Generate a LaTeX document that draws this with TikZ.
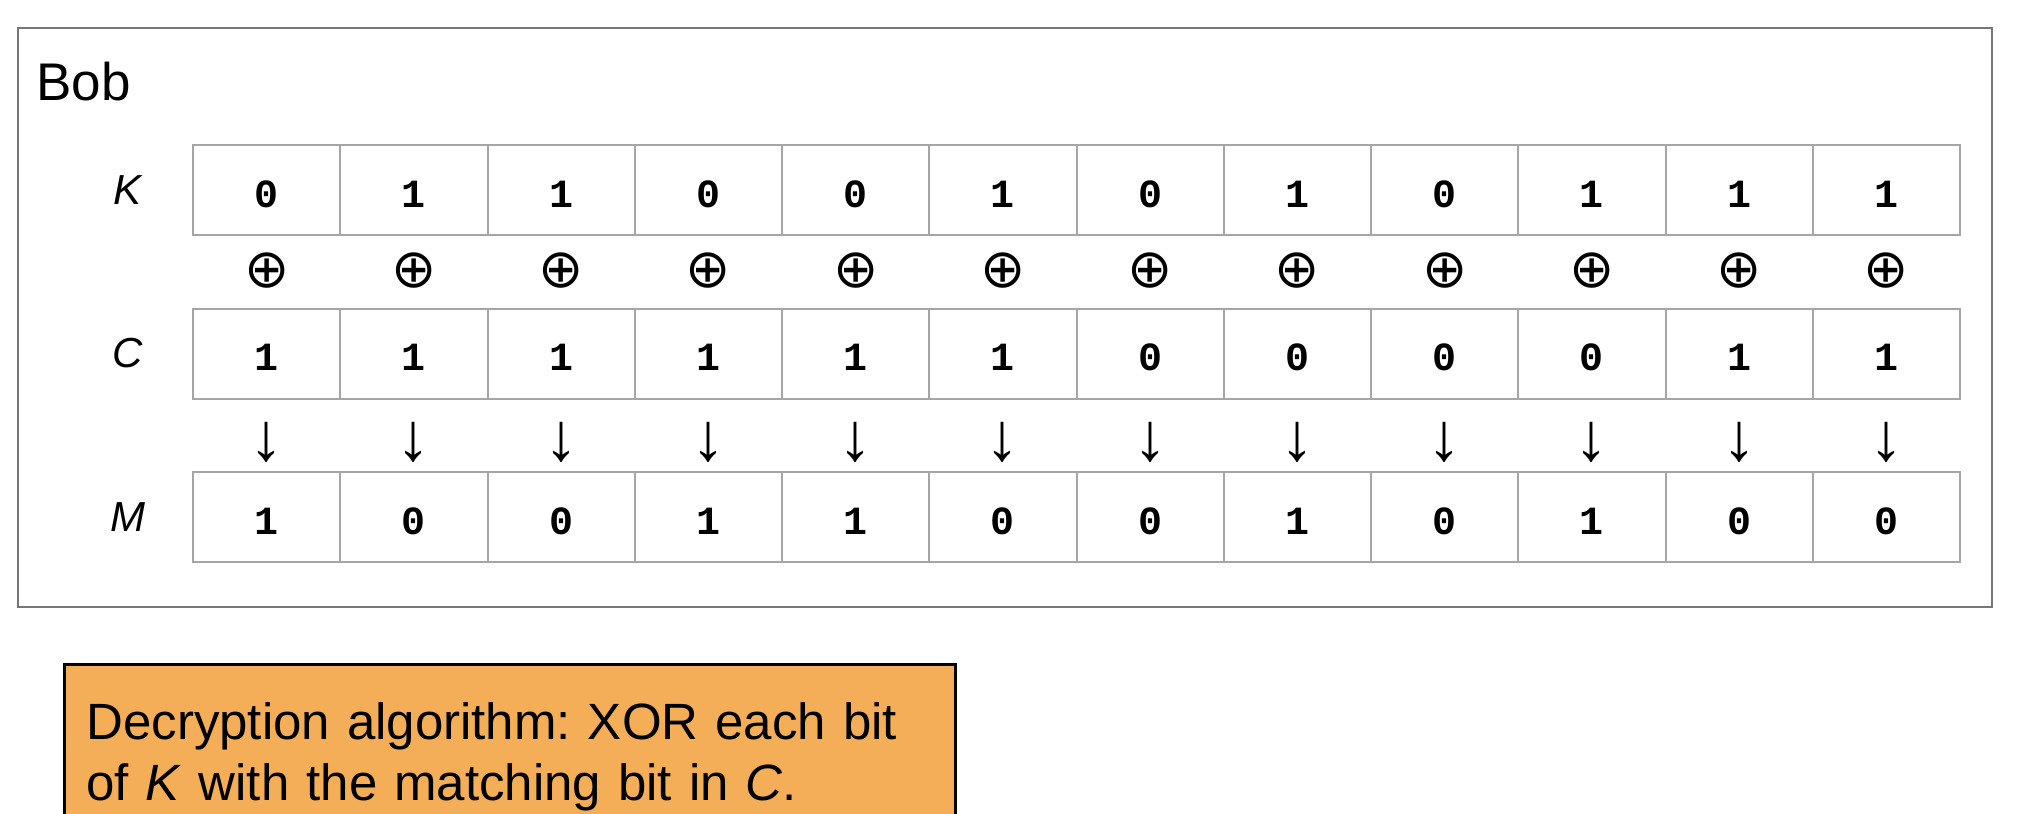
\documentclass[tikz,border=0pt]{standalone}
\usepackage{fontspec}
\setmainfont{Liberation Sans}
\setmonofont{Liberation Mono}
\newfontfamily\symfont{DejaVu Sans}
\frenchspacing
\definecolor{framegray}{HTML}{777777}
\definecolor{cellgray}{HTML}{A6A6A6}
\definecolor{notefill}{HTML}{F3AE57}
\begin{document}
\begin{tikzpicture}[x=0.5pt,y=-0.5pt]
\tikzset{
  cell/.style={draw=cellgray, line width=1pt, minimum width=73.625pt, minimum height=45pt,
    inner sep=0pt, text height=17pt, text depth=0pt,
    font=\ttfamily\bfseries\fontsize{20}{22}\selectfont},
  rowlabel/.style={font=\itshape\fontsize{21}{24}\selectfont, inner sep=0pt},
  opsym/.style={font=\symfont\fontsize{27}{30}\selectfont, inner sep=0pt},
  arrsym/.style={font=\fontsize{34}{36}\selectfont, inner sep=0pt},
}
\useasboundingbox (0,0) rectangle (2020,814);
% outer frame
\draw[framegray, line width=1pt] (18,28) rectangle (1992,607);
\node[anchor=base west, inner sep=0pt, font=\fontsize{26.5}{30}\selectfont] (bob) at (36,100) {Bob};
% row labels
\node[rowlabel] (lk) at (128,190) {K};
\node[rowlabel] (lc) at (128,353) {C};
\node[rowlabel] (lm) at (128,517) {M};
% cells
\foreach \i/\k/\c/\m in {1/0/1/1,2/1/1/0,3/1/1/0,4/0/1/1,5/0/1/1,6/1/1/0,7/0/0/0,8/1/0/1,9/0/0/0,10/1/0/1,11/1/1/0,12/1/1/0}{
  \pgfmathsetmacro{\cx}{193+147.25*(\i-0.5)}
  \node[cell] (k\i) at (\cx,190) {\k};
  \node[cell] (c\i) at (\cx,353.5) {\c};
  \node[cell] (m\i) at (\cx,517) {\m};
  \node[opsym] (x\i) at (\cx,271) {⊕};
  \node[arrsym] (a\i) at (\cx,442) {↓};
}
% note box
\fill[notefill] (64,664) rectangle (955,830);
\draw[black, line width=1.5pt] (64,830) -- (64,664) -- (955,664) -- (955,830);
\node[anchor=north west, inner sep=0pt, align=left, text width=880*0.5pt,
  font=\fontsize{25.5}{30.5}\selectfont] (desc) at (86,702)
  {Decryption algorithm: XOR each bit\\of \textit{K} with the matching bit in \textit{C}.};
\end{tikzpicture}
\end{document}
